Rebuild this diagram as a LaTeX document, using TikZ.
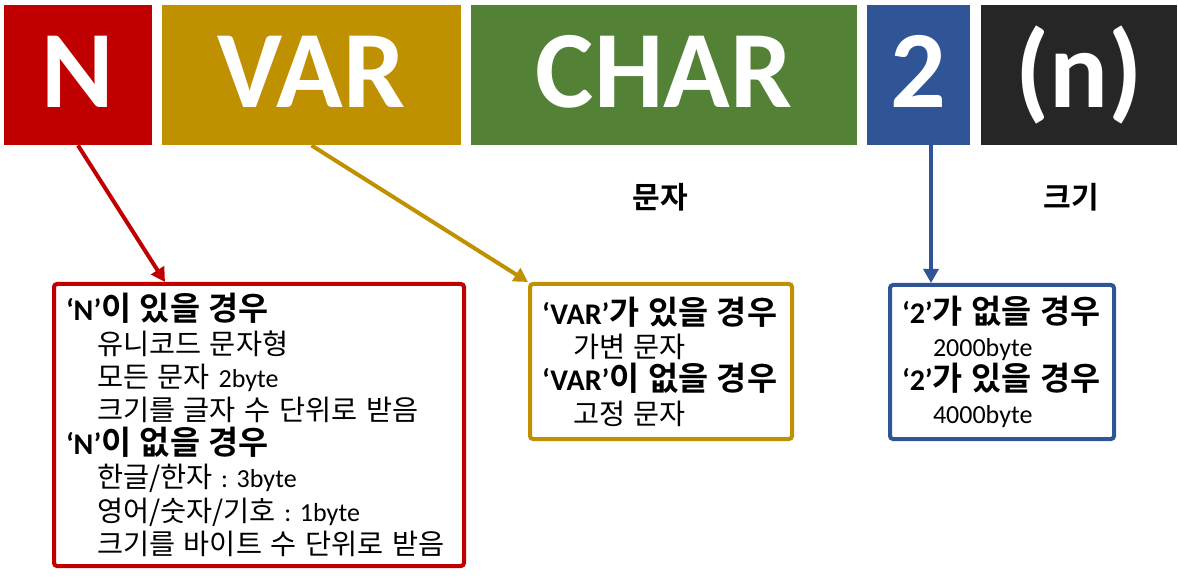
\documentclass[tikz,border=0pt]{standalone}
\usepackage{fontspec}
\setmainfont{Carlito}
\newfontfamily\kr{Noto Sans CJK KR}[BoldFont={Noto Sans CJK KR Bold},Scale=1.09]
\usetikzlibrary{arrows.meta}
\definecolor{nred}{HTML}{C00000}
\definecolor{vargold}{HTML}{BF9000}
\definecolor{chargreen}{HTML}{538135}
\definecolor{sizeblue}{HTML}{2F5597}
\definecolor{lenblack}{HTML}{262626}
\frenchspacing
\newcommand{\ind}{\hspace*{15.5pt}}
\newcommand{\hd}[2]{\mbox{\fontsize{15}{16.7}\selectfont\bfseries #1{\kr #2}}}
\tikzset{
  part/.style={fill=#1,text=white,font=\fontsize{55}{60}\selectfont\bfseries,
    text height=51.5pt,text depth=18.5pt,inner ysep=0pt,inner xsep=0pt},
  note/.style={draw=#1,fill=white,line width=2pt,rounded corners=1.5pt,align=left,
    inner xsep=6pt,inner ysep=0pt,font=\fontsize{13}{16.7}\selectfont},
  ptr/.style={-{Triangle[length=7pt,width=7.5pt]},line width=2pt,draw=#1},
  tag/.style={font=\kr\fontsize{13.8}{16}\selectfont\bfseries},
}

\begin{document}
\begin{tikzpicture}[x=0.5pt,y=-0.5pt]
    \useasboundingbox (0,0) rectangle (1178,577);

    \node[part=nred,minimum width=74pt] (nblk) at (78,75) {N};
    \node[part=vargold,minimum width=149.5pt] (varblk) at (311.5,75) {VAR};
    \node[part=chargreen,minimum width=193pt] (charblk) at (664,75) {CHAR};
    \node[part=sizeblue,minimum width=51.5pt] (twoblk) at (918.5,75) {2};
    \node[part=lenblack,minimum width=98pt] (lenblk) at (1079,75) {(n)};

    \node[tag] (chartag) at (660,197) {문자};
    \node[tag] (lentag) at (1071,197) {크기};

    \node[note=nred,text width=193pt,minimum height=141pt] (nbox) at (259,425) {%
      \hd{‘N’}{이 있을 경우}\\
      \ind{\kr 유니코드 문자형}\\
      \ind{\kr 모든 문자} 2byte\\
      \ind{\kr 크기를 글자 수 단위로 받음}\\
      \hd{‘N’}{이 없을 경우}\\
      \ind{\kr 한글/한자} : 3byte\\
      \ind{\kr 영어/숫자/기호} : 1byte\\
      \ind{\kr 크기를 바이트 수 단위로 받음}};
    \node[note=vargold,text width=119pt,minimum height=77.5pt] (varbox) at (661,361.5) {%
      \hd{‘VAR’}{가 있을 경우}\\
      \ind{\kr 가변 문자}\\
      \hd{‘VAR’}{이 없을 경우}\\
      \ind{\kr 고정 문자}};
    \node[note=sizeblue,text width=100pt,minimum height=77pt] (twobox) at (1002,362) {%
      \hd{‘2’}{가 없을 경우}\\
      \ind 2000byte\\
      \hd{‘2’}{가 있을 경우}\\
      \ind 4000byte};

    \draw[ptr=nred] (nblk.south) -- ([xshift=56.5pt]nbox.north west);
    \draw[ptr=vargold] (varblk.south) -- (varbox.north west);
    \draw[ptr=sizeblue,line width=1.6pt] ([xshift=6.25pt]twoblk.south) -- ([xshift=6.25pt]twoblk.south |- twobox.north);
\end{tikzpicture}
\end{document}
